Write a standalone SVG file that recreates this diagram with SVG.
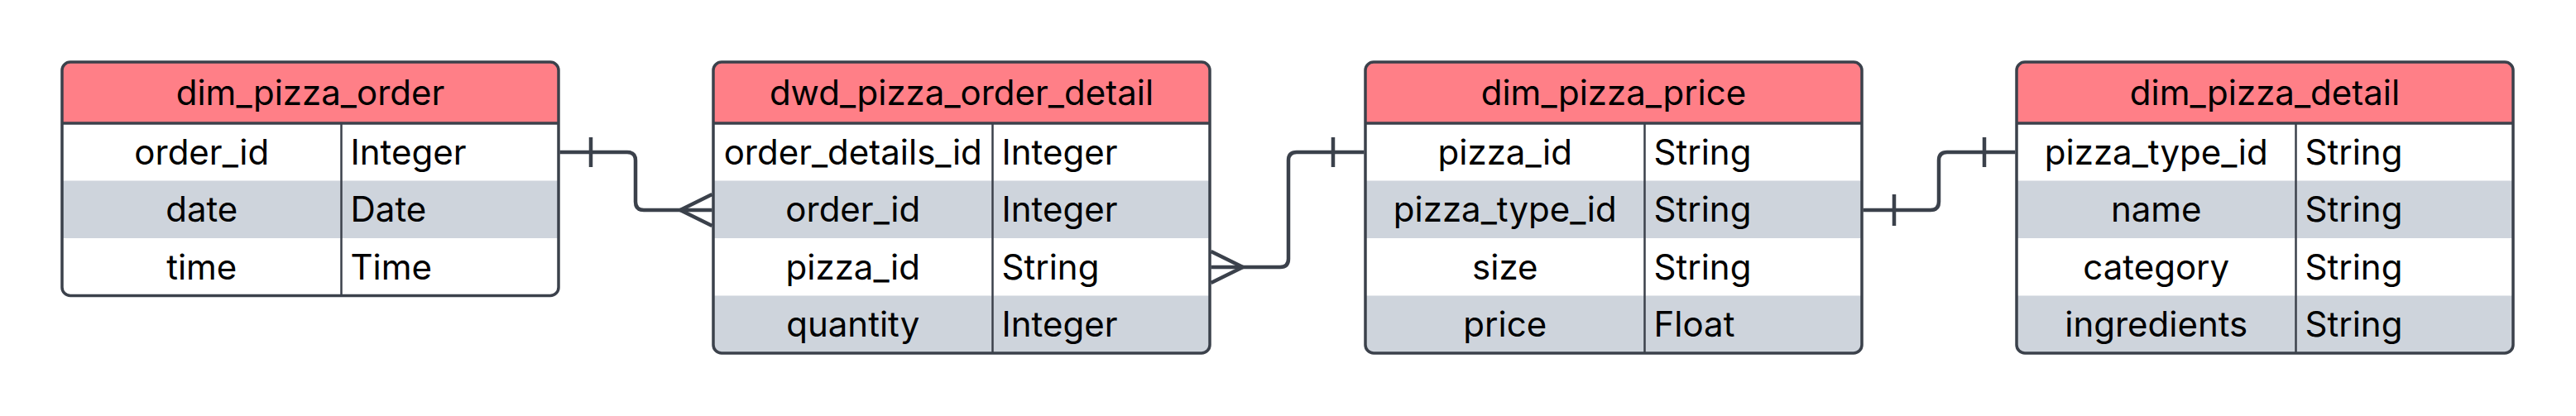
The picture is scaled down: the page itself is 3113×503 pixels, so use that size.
<svg xmlns="http://www.w3.org/2000/svg" width="3113" height="503" viewBox="0 0 3113 503">
<style>
.hdr{fill:#FF7F87}
.gray{fill:#CED4DC}
.white{fill:#FFFFFF}
.outline{fill:none;stroke:#3B414B;stroke-width:3.5}
.sep{stroke:#3B414B;stroke-width:3.5}
.div{stroke:#3B414B;stroke-width:2.5}
text{font-family:Inter,"Noto Sans","Liberation Sans",sans-serif;font-size:42px;fill:#000}
.t{text-anchor:middle}
.k{text-anchor:middle}
.ty{text-anchor:start}
.conn{fill:none;stroke:#3B414B;stroke-width:4.5;stroke-linecap:butt;stroke-linejoin:round}
</style>
<defs>
<clipPath id="c1"><rect x="75" y="75" width="600" height="282.5" rx="10"/></clipPath>
<clipPath id="c2"><rect x="862" y="75" width="600" height="352" rx="10"/></clipPath>
<clipPath id="c3"><rect x="1650" y="75" width="600" height="352" rx="10"/></clipPath>
<clipPath id="c4"><rect x="2437" y="75" width="600" height="352" rx="10"/></clipPath>
</defs>
<rect width="3113" height="503" fill="#FFFFFF"/>

<g id="dim_pizza_order">
<g clip-path="url(#c1)">
<rect class="hdr" x="75" y="75" width="600" height="74"/>
<rect class="white" x="75" y="149" width="600" height="69.5"/>
<rect class="gray" x="75" y="218.5" width="600" height="69.5"/>
<rect class="white" x="75" y="288" width="600" height="69.5"/>
</g>
<line class="sep" x1="75" y1="149" x2="675" y2="149"/>
<line class="div" x1="412.5" y1="149" x2="412.5" y2="357.5"/>
<rect class="outline" x="75" y="75" width="600" height="282.5" rx="10"/>
<text class="t" x="375" y="127">dim_pizza_order</text>
<text class="k" x="243.75" y="198.5">order_id</text><text class="ty" x="423.5" y="198.5">Integer</text>
<text class="k" x="243.75" y="268">date</text><text class="ty" x="423.5" y="268">Date</text>
<text class="k" x="243.75" y="337.5">time</text><text class="ty" x="423.5" y="337.5">Time</text>
</g>

<g id="dwd_pizza_order_detail">
<g clip-path="url(#c2)">
<rect class="hdr" x="862" y="75" width="600" height="74"/>
<rect class="white" x="862" y="149" width="600" height="69.5"/>
<rect class="gray" x="862" y="218.5" width="600" height="69.5"/>
<rect class="white" x="862" y="288" width="600" height="69.5"/>
<rect class="gray" x="862" y="357.5" width="600" height="69.5"/>
</g>
<line class="sep" x1="862" y1="149" x2="1462" y2="149"/>
<line class="div" x1="1199.5" y1="149" x2="1199.5" y2="427"/>
<rect class="outline" x="862" y="75" width="600" height="352" rx="10"/>
<text class="t" x="1162" y="127">dwd_pizza_order_detail</text>
<text class="k" x="1030.75" y="198.5">order_details_id</text><text class="ty" x="1210.5" y="198.5">Integer</text>
<text class="k" x="1030.75" y="268">order_id</text><text class="ty" x="1210.5" y="268">Integer</text>
<text class="k" x="1030.75" y="337.5">pizza_id</text><text class="ty" x="1210.5" y="337.5">String</text>
<text class="k" x="1030.75" y="407">quantity</text><text class="ty" x="1210.5" y="407">Integer</text>
</g>

<g id="dim_pizza_price">
<g clip-path="url(#c3)">
<rect class="hdr" x="1650" y="75" width="600" height="74"/>
<rect class="white" x="1650" y="149" width="600" height="69.5"/>
<rect class="gray" x="1650" y="218.5" width="600" height="69.5"/>
<rect class="white" x="1650" y="288" width="600" height="69.5"/>
<rect class="gray" x="1650" y="357.5" width="600" height="69.5"/>
</g>
<line class="sep" x1="1650" y1="149" x2="2250" y2="149"/>
<line class="div" x1="1987.5" y1="149" x2="1987.5" y2="427"/>
<rect class="outline" x="1650" y="75" width="600" height="352" rx="10"/>
<text class="t" x="1950" y="127">dim_pizza_price</text>
<text class="k" x="1818.75" y="198.5">pizza_id</text><text class="ty" x="1998.5" y="198.5">String</text>
<text class="k" x="1818.75" y="268">pizza_type_id</text><text class="ty" x="1998.5" y="268">String</text>
<text class="k" x="1818.75" y="337.5">size</text><text class="ty" x="1998.5" y="337.5">String</text>
<text class="k" x="1818.75" y="407">price</text><text class="ty" x="1998.5" y="407">Float</text>
</g>

<g id="dim_pizza_detail">
<g clip-path="url(#c4)">
<rect class="hdr" x="2437" y="75" width="600" height="74"/>
<rect class="white" x="2437" y="149" width="600" height="69.5"/>
<rect class="gray" x="2437" y="218.5" width="600" height="69.5"/>
<rect class="white" x="2437" y="288" width="600" height="69.5"/>
<rect class="gray" x="2437" y="357.5" width="600" height="69.5"/>
</g>
<line class="sep" x1="2437" y1="149" x2="3037" y2="149"/>
<line class="div" x1="2774.5" y1="149" x2="2774.5" y2="427"/>
<rect class="outline" x="2437" y="75" width="600" height="352" rx="10"/>
<text class="t" x="2737" y="127">dim_pizza_detail</text>
<text class="k" x="2605.75" y="198.5">pizza_type_id</text><text class="ty" x="2785.5" y="198.5">String</text>
<text class="k" x="2605.75" y="268">name</text><text class="ty" x="2785.5" y="268">String</text>
<text class="k" x="2605.75" y="337.5">category</text><text class="ty" x="2785.5" y="337.5">String</text>
<text class="k" x="2605.75" y="407">ingredients</text><text class="ty" x="2785.5" y="407">String</text>
</g>

<g id="connectors">
<path class="conn" d="M676.5,184 H758 Q768,184 768,194 V244 Q768,254 778,254 H860.5"/>
<path class="conn" d="M714,166 V202"/>
<path class="conn" d="M860.5,235 L822,254 L860.5,273"/>

<path class="conn" d="M1463.5,323 H1547 Q1557,323 1557,313 V194 Q1557,184 1567,184 H1648.5"/>
<path class="conn" d="M1611,166 V202"/>
<path class="conn" d="M1463.5,304 L1502,323 L1463.5,342"/>

<path class="conn" d="M2251.5,254 H2333 Q2343,254 2343,244 V194 Q2343,184 2353,184 H2435.5"/>
<path class="conn" d="M2289,235 V273"/>
<path class="conn" d="M2398,166 V202"/>
</g>
</svg>
